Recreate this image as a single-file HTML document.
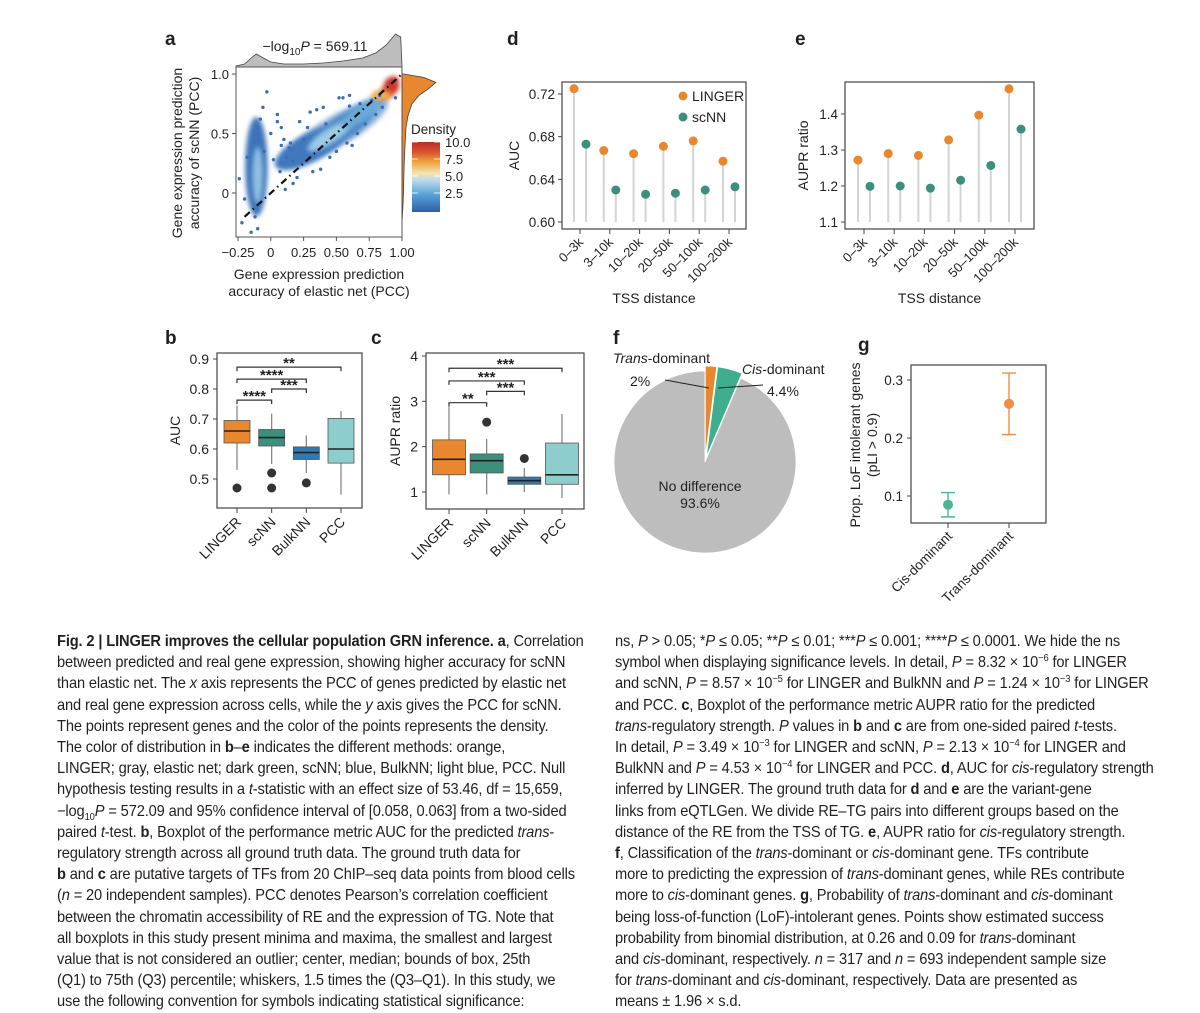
<!DOCTYPE html>
<html><head><meta charset="utf-8">
<style>
html,body{margin:0;padding:0;background:#fff;}
body{width:1200px;height:1012px;position:relative;overflow:hidden;font-family:"Liberation Sans",sans-serif;}
svg{position:absolute;left:0;top:0;}
.cap{position:absolute;top:631px;font-size:15.6px;line-height:21.2px;color:#231f20;transform:scaleX(0.94);transform-origin:0 0;white-space:nowrap;letter-spacing:-0.15px;}
.cap sub,.cap sup{font-size:10px;line-height:0;}
</style></head>
<body>
<svg id="fig" width="1200" height="1012" font-family="Liberation Sans, sans-serif"></svg>

<div class="cap" style="left:57px">
<div><b>Fig. 2 | LINGER improves the cellular population GRN inference. a</b>, Correlation</div>
<div>between predicted and real gene expression, showing higher accuracy for scNN</div>
<div>than elastic net. The <i>x</i> axis represents the PCC of genes predicted by elastic net</div>
<div>and real gene expression across cells, while the <i>y</i> axis gives the PCC for scNN.</div>
<div>The points represent genes and the color of the points represents the density.</div>
<div>The color of distribution in <b>b</b>–<b>e</b> indicates the different methods: orange,</div>
<div>LINGER; gray, elastic net; dark green, scNN; blue, BulkNN; light blue, PCC. Null</div>
<div>hypothesis testing results in a <i>t</i>-statistic with an effect size of 53.46, df = 15,659,</div>
<div>−log<sub>10</sub><i>P</i> = 572.09 and 95% confidence interval of [0.058, 0.063] from a two-sided</div>
<div>paired <i>t</i>-test. <b>b</b>, Boxplot of the performance metric AUC for the predicted <i>trans</i>-</div>
<div>regulatory strength across all ground truth data. The ground truth data for</div>
<div><b>b</b> and <b>c</b> are putative targets of TFs from 20 ChIP–seq data points from blood cells</div>
<div>(<i>n</i> = 20 independent samples). PCC denotes Pearson’s correlation coefficient</div>
<div>between the chromatin accessibility of RE and the expression of TG. Note that</div>
<div>all boxplots in this study present minima and maxima, the smallest and largest</div>
<div>value that is not considered an outlier; center, median; bounds of box, 25th</div>
<div>(Q1) to 75th (Q3) percentile; whiskers, 1.5 times the (Q3–Q1). In this study, we</div>
<div>use the following convention for symbols indicating statistical significance:</div>
</div>

<div class="cap" style="left:615px">
<div>ns, <i>P</i> &gt; 0.05; *<i>P</i> ≤ 0.05; **<i>P</i> ≤ 0.01; ***<i>P</i> ≤ 0.001; ****<i>P</i> ≤ 0.0001. We hide the ns</div>
<div>symbol when displaying significance levels. In detail, <i>P</i> = 8.32 × 10<sup>−6</sup> for LINGER</div>
<div>and scNN, <i>P</i> = 8.57 × 10<sup>−5</sup> for LINGER and BulkNN and <i>P</i> = 1.24 × 10<sup>−3</sup> for LINGER</div>
<div>and PCC. <b>c</b>, Boxplot of the performance metric AUPR ratio for the predicted</div>
<div><i>trans</i>-regulatory strength. <i>P</i> values in <b>b</b> and <b>c</b> are from one-sided paired <i>t</i>-tests.</div>
<div>In detail, <i>P</i> = 3.49 × 10<sup>−3</sup> for LINGER and scNN, <i>P</i> = 2.13 × 10<sup>−4</sup> for LINGER and</div>
<div>BulkNN and <i>P</i> = 4.53 × 10<sup>−4</sup> for LINGER and PCC. <b>d</b>, AUC for <i>cis</i>-regulatory strength</div>
<div>inferred by LINGER. The ground truth data for <b>d</b> and <b>e</b> are the variant-gene</div>
<div>links from eQTLGen. We divide RE–TG pairs into different groups based on the</div>
<div>distance of the RE from the TSS of TG. <b>e</b>, AUPR ratio for <i>cis</i>-regulatory strength.</div>
<div><b>f</b>, Classification of the <i>trans</i>-dominant or <i>cis</i>-dominant gene. TFs contribute</div>
<div>more to predicting the expression of <i>trans</i>-dominant genes, while REs contribute</div>
<div>more to <i>cis</i>-dominant genes. <b>g</b>, Probability of <i>trans</i>-dominant and <i>cis</i>-dominant</div>
<div>being loss-of-function (LoF)-intolerant genes. Points show estimated success</div>
<div>probability from binomial distribution, at 0.26 and 0.09 for <i>trans</i>-dominant</div>
<div>and <i>cis</i>-dominant, respectively. <i>n</i> = 317 and <i>n</i> = 693 independent sample size</div>
<div>for <i>trans</i>-dominant and <i>cis</i>-dominant, respectively. Data are presented as</div>
<div>means ± 1.96 × s.d.</div>
</div>

<script>
// ---- data ----
const tssCats = ["0–3k","3–10k","10–20k","20–50k","50–100k","100–200k"];
const aucLinger = [0.725,0.667,0.664,0.671,0.676,0.657];
const aucScnn = [0.673,0.630,0.626,0.627,0.630,0.633];
const aucTicks = [0.60,0.64,0.68,0.72];
const auprLinger = [1.272,1.290,1.285,1.328,1.397,1.470];
const auprScnn = [1.199,1.200,1.194,1.216,1.257,1.358];
const auprTicks = [1.1,1.2,1.3,1.4];

const methods = ["LINGER","scNN","BulkNN","PCC"];
const bAucQ1 = [0.620,0.610,0.565,0.553];
const bAucMed = [0.660,0.638,0.588,0.600];
const bAucQ3 = [0.695,0.665,0.607,0.702];
const bAucLo = [0.530,0.550,0.520,0.448];
const bAucHi = [0.745,0.718,0.645,0.727];
const bAucOut = [[0.470],[0.520,0.470],[0.487],[]];
const bAucTicks = [0.5,0.6,0.7,0.8,0.9];
const bAucSig = [[0,3,0.873,"**"],[0,2,0.833,"****"],[1,2,0.800,"***"],[0,1,0.763,"****"]];

const cQ1 = [1.38,1.42,1.17,1.17];
const cMed = [1.72,1.69,1.25,1.38];
const cQ3 = [2.15,1.84,1.33,2.08];
const cLo = [0.95,0.95,1.00,0.87];
const cHi = [2.87,2.17,1.53,2.72];
const cOut = [[],[2.54],[1.74],[]];
const cTicks = [1,2,3,4];
const cSig = [[0,3,3.73,"***"],[0,2,3.45,"***"],[1,2,3.22,"***"],[0,1,2.97,"**"]];

const pieLabels = ["Trans-dominant","Cis-dominant","No difference"];
const pieValues = [2.0,4.4,93.6];

const gCats = ["Cis-dominant","Trans-dominant"];
const gMean = [0.085,0.259];
const gLow = [0.064,0.206];
const gHigh = [0.106,0.312];
const gTicks = [0.1,0.2,0.3];

const aTicksX = [-0.25,0,0.25,0.5,0.75,1.0];
const aTickLabelsX = ["−0.25","0","0.25","0.50","0.75","1.00"];
const aTicksY = [0,0.5,1.0];
const aTickLabelsY = ["0","0.5","1.0"];
const blobX = [-0.11,-0.10,0.30,0.55,0.45,0.70,0.90,0.92,0.5];
const blobY = [0.22,0.15,0.38,0.55,0.48,0.68,0.86,0.93,0.52];
const blobRX = [0.085,0.04,0.30,0.27,0.2,0.2,0.09,0.06,0.45];
const blobRY = [0.42,0.24,0.12,0.1,0.06,0.07,0.055,0.045,0.13];
const blobRot = [0,0,-28,-33,-33,-35,-35,-30,-30];
const ptX = [-0.03,-0.22,-0.24,-0.18,-0.15,-0.2,-0.1,-0.06,0.05,0.08,0.11,0.17,0.2,0.22,0.3,0.35,0.4,0.52,0.55,0.6,0.62,-0.1,0.0,0.05,0.12,0.17,0.07,0.32,0.38,0.45,0.5,0.58,0.66,0.72,0.8,0.85,0.15,0.25,0.28,0.42,-0.05,0.02,0.08,0.1,0.14,0.6,0.68,0.77,0.83,0.95,-0.12,-0.08];
const ptY = [0.85,-0.25,0.12,0.3,-0.33,-0.05,-0.3,0.72,0.6,0.55,0.03,0.08,0.13,0.6,0.68,0.7,0.72,0.8,0.8,0.82,0.4,0.55,0.5,0.66,0.3,0.27,0.18,0.18,0.2,0.3,0.35,0.42,0.5,0.58,0.66,0.72,0.42,0.45,0.55,0.58,0.35,0.28,0.4,0.45,0.38,0.73,0.75,0.78,0.82,0.8,-0.2,0.62];
const topDensX = [-0.265,-0.2,-0.15,-0.11,-0.07,0.0,0.1,0.25,0.4,0.55,0.7,0.8,0.88,0.95,0.99,1.0];
const topDensV = [1,3,9,13,10,5,3,3,4,6,9,14,22,33,30,1];
const rightDensY = [-0.25,-0.1,0.0,0.2,0.4,0.55,0.65,0.75,0.82,0.88,0.93,0.97,1.0];
const rightDensV = [0,1,1.5,2,3,4,6,10,17,27,34,22,2];

// ---- helpers ----
const svg = document.getElementById('fig');
const NS = 'http://www.w3.org/2000/svg';
function el(tag, attrs, parent){
  const e = document.createElementNS(NS, tag);
  for (const k in attrs) e.setAttribute(k, attrs[k]);
  (parent||svg).appendChild(e);
  return e;
}
function txt(x,y,s,size,anchor,parent,extra){
  const t = el('text',Object.assign({x:x,y:y,'font-size':size,'text-anchor':anchor||'start',fill:'#231f20'},extra||{}),parent);
  t.textContent = s;
  return t;
}
function lin(d0,d1,r0,r1){return v=>r0+(v-d0)*(r1-r0)/(d1-d0);}
const OR='#E8872D', GR='#3C8F7C', BL='#2F79B5', LB='#8ECDCE';

const defs = el('defs',{});
const gr = el('linearGradient',{id:'cbar',x1:0,y1:1,x2:0,y2:0},defs);
[['0','#2f5fa8'],['0.25','#5aa2d8'],['0.45','#b9d9ea'],['0.55','#f2e6b0'],['0.72','#f0a03c'],['0.85','#d9552e'],['1','#b92b2b']].forEach(s=>el('stop',{offset:s[0],'stop-color':s[1]},gr));
const flt = el('filter',{id:'blur',x:'-50%',y:'-50%',width:'200%',height:'200%'},defs);
el('feGaussianBlur',{stdDeviation:2.5},flt);
const cp = el('clipPath',{id:'aclip'},defs);
el('rect',{x:236,y:67,width:166,height:170},cp);

[['a',165,45],['d',507,45],['e',795,45],['b',165,344],['c',371,344],['f',613,344],['g',858,351]].forEach(p=>{
  const t = txt(p[1],p[2],p[0],19,'start',svg,{'font-weight':'bold'});
  
  
});

// ---- panel a ----
(function(){
  const g = el('g',{});
  
  
  const X = lin(-0.25,1.0,238,402), Y = lin(0,1,193,74);
  let d = 'M'+X(topDensX[0])+',67';
  topDensX.forEach((v,i)=>{d+=' L'+X(v)+','+(67-topDensV[i]);});
  d+=' L'+X(1)+',67 Z';
  const td = el('path',{d:d,fill:'#bdbdbd',stroke:'#444','stroke-width':0.8},g);
  
  
  d = 'M402,'+Y(rightDensY[0]);
  rightDensY.forEach((v,i)=>{d+=' L'+(402+rightDensV[i])+','+Y(v);});
  d+=' L402,'+Y(1)+' Z';
  const rd = el('path',{d:d,fill:OR,stroke:'#444','stroke-width':0.8},g);
  
  
  const pl = el('g',{'clip-path':'url(#aclip)'},g);
  const bcol=['#3d73b9','#8fc0e2','#3f78bd','#4a86c6','#9ccbe6','#6aa9d8','#d23f2d','#c2302a','#4a7fc0'];
  const order=[8,0,1,2,3,4,5,6,7];
  order.forEach(i=>{
    const v=blobX[i];
    const sx = blobRX[i]*131.2, sy = blobRY[i]*118.3;
    const e = el('ellipse',{cx:X(v),cy:Y(blobY[i]),rx:sx,ry:sy,fill:bcol[i],'fill-opacity':i===8?0.6:1,filter:'url(#blur)',transform:'rotate('+blobRot[i]+' '+X(v)+' '+Y(blobY[i])+')'},pl);
    
    
  });
  el('ellipse',{cx:X(0.84),cy:Y(0.82),rx:10,ry:5,fill:'#f2b04a',filter:'url(#blur)'},pl);
  ptX.forEach((v,i)=>{
    const c = el('circle',{cx:X(v),cy:Y(ptY[i]),r:1.7,fill:'#3b6db5'},pl);
    
    
  });
  const dl = el('line',{x1:X(-0.2),y1:Y(-0.2),x2:X(1),y2:Y(1),stroke:'#111','stroke-width':2.2,'stroke-dasharray':'7,4,1.5,4'},pl);
  
  
  el('rect',{x:236,y:67,width:166,height:170,fill:'none',stroke:'#555','stroke-width':1},g);
  aTicksX.forEach((v,i)=>{
    el('line',{x1:X(v),x2:X(v),y1:237,y2:241,stroke:'#555'},g);
    txt(X(v),257,aTickLabelsX[i],13,'middle',g);
  });
  aTicksY.forEach((v,i)=>{
    el('line',{x1:232,x2:236,y1:Y(v),y2:Y(v),stroke:'#555'},g);
    txt(229,Y(v)+5,aTickLabelsY[i],13,'end',g);
  });
  const t = el('text',{x:315,y:51,'font-size':14,'text-anchor':'middle',fill:'#231f20'},g);
  t.innerHTML = '−log<tspan font-size="10" dy="4">10</tspan><tspan dy="-4" font-style="italic">P</tspan> = 569.11';
  
  
  txt(319,279,'Gene expression prediction',14,'middle',g);
  txt(319,296,'accuracy of elastic net (PCC)',14,'middle',g);
  const yl = el('g',{transform:'translate(182,153) rotate(-90)'},g);
  
  
  txt(0,0,'Gene expression prediction',14,'middle',yl);
  txt(0,17,'accuracy of scNN (PCC)',14,'middle',yl);
  const cb = el('rect',{x:412,y:142,width:28,height:70,fill:'url(#cbar)'},g);
  
  
  txt(411,134,'Density',13.5,'start',g);
  [['10.0',146],['7.5',163],['5.0',180],['2.5',197]].forEach(l=>{
    el('line',{x1:412,x2:418,y1:l[1]-4,y2:l[1]-4,stroke:'#fff','stroke-width':0.8},g);
    el('line',{x1:434,x2:440,y1:l[1]-4,y2:l[1]-4,stroke:'#fff','stroke-width':0.8},g);
    txt(445,l[1]+1,l[0],13,'start',g);
  });
})();

function lollipop(name, box, yd, ticks, fmt, lv, sv, ylab, legend){
  const g = el('g',{});
  
  
  const Y = lin(yd[0],yd[1],box.yb0,box.yb1);
  const step = (box.cx1-box.cx0)/(tssCats.length-1);
  const X = i=>box.cx0+i*step;
  el('rect',{x:box.x,y:box.y,width:box.w,height:box.h,fill:'none',stroke:'#444','stroke-width':1.2},g);
  ticks.forEach(v=>{
    el('line',{x1:box.x-4,x2:box.x,y1:Y(v),y2:Y(v),stroke:'#444'},g);
    txt(box.x-7,Y(v)+5,fmt(v),13.5,'end',g);
  });
  tssCats.forEach((c,i)=>{
    el('line',{x1:X(i),x2:X(i),y1:box.y+box.h,y2:box.y+box.h+5,stroke:'#444'},g);
    const t = txt(0,0,c,13,'end',g,{transform:'translate('+(X(i)+4)+','+(box.y+box.h+14)+') rotate(-45)'});
    
    
    [[lv,-6,OR],[sv,6,GR]].forEach(s=>{
      const xx = X(i)+s[1];
      el('line',{x1:xx,x2:xx,y1:Y(ticks[0]),y2:Y(s[0][i]),stroke:'#d4d4d4','stroke-width':2},g);
      const p = el('circle',{cx:xx,cy:Y(s[0][i]),r:4.5,fill:s[2]},g);
      
      
    });
  });
  txt((box.x+box.x+box.w)/2,303,'TSS distance',14,'middle',g);
  const yl = txt(0,0,ylab,14,'middle',g,{transform:'translate('+box.ylx+','+(box.y+box.h/2)+') rotate(-90)'});
  
  
  if(legend){
    const l1 = el('circle',{cx:683,cy:96,r:4.5,fill:OR},g);
    
    
    txt(692,101,'LINGER',14,'start',g);
    const l2 = el('circle',{cx:683,cy:117,r:4.5,fill:GR},g);
    
    
    txt(692,122,'scNN',14,'start',g);
  }
}
lollipop('panel-d-auc',{x:562,y:82,w:184,h:147,cx0:580,cx1:729,yb0:222,yb1:94,ylx:519},[0.60,0.72],aucTicks,v=>v.toFixed(2),aucLinger,aucScnn,'AUC',true);
lollipop('panel-e-aupr',{x:845,y:82,w:189,h:147,cx0:864,cx1:1015,yb0:222,yb1:114,ylx:808},[1.1,1.4],auprTicks,v=>v.toFixed(1),auprLinger,auprScnn,'AUPR ratio',false);

function boxplot(name, box, yd, ticks, fmt, q1,med,q3,lo,hi,outs,sig, ylab, bw, ylx){
  const g = el('g',{});
  
  
  const Y = lin(yd[0],yd[1],box.yb0,box.yb1);
  const X = i=>box.cx0+i*(box.cx1-box.cx0)/3;
  const cols=[OR,GR,BL,LB];
  el('rect',{x:box.x,y:box.y,width:box.w,height:box.h,fill:'none',stroke:'#444','stroke-width':1.2},g);
  ticks.forEach(v=>{
    el('line',{x1:box.x-4,x2:box.x,y1:Y(v),y2:Y(v),stroke:'#444'},g);
    txt(box.x-8,Y(v)+5,fmt(v),14,'end',g);
  });
  methods.forEach((m,i)=>{
    const x=X(i);
    el('line',{x1:x,x2:x,y1:box.y+box.h,y2:box.y+box.h+5,stroke:'#444'},g);
    const t = txt(0,0,m,14,'end',g,{transform:'translate('+(x+5)+','+(box.y+box.h+15)+') rotate(-45)'});
    
    
    el('line',{x1:x,x2:x,y1:Y(lo[i]),y2:Y(hi[i]),stroke:'#888','stroke-width':1.3},g);
    const r = el('rect',{x:x-bw/2,y:Y(q3[i]),width:bw,height:Y(q1[i])-Y(q3[i]),fill:cols[i],stroke:'#555','stroke-width':0.8},g);
    
    
    el('line',{x1:x-bw/2,x2:x+bw/2,y1:Y(med[i]),y2:Y(med[i]),stroke:'#222','stroke-width':1.6},g);
    outs[i].forEach(o=>{
      const c = el('circle',{cx:x,cy:Y(o),r:4.5,fill:'#333'},g);
      
      
    });
  });
  sig.forEach(s=>{
    const y=Y(s[2]);
    const b = el('path',{d:'M'+X(s[0])+','+(y+4)+' V'+y+' H'+X(s[1])+' V'+(y+4),fill:'none',stroke:'#333','stroke-width':1.2},g);
    
    
    txt((X(s[0])+X(s[1]))/2,y+1,s[3],15,'middle',g,{'font-weight':'bold'});
  });
  const yl = txt(0,0,ylab,14,'middle',g,{transform:'translate('+ylx+','+(box.y+box.h/2)+') rotate(-90)'});
  
  
}
boxplot('panel-b-auc',{x:217,y:353,w:145,h:155,cx0:237,cx1:341,yb0:479,yb1:359},[0.5,0.9],bAucTicks,v=>v.toFixed(1),bAucQ1,bAucMed,bAucQ3,bAucLo,bAucHi,bAucOut,bAucSig,'AUC',26,180);
boxplot('panel-c-aupr',{x:426,y:353,w:158,h:156,cx0:449,cx1:562,yb0:492,yb1:356},[1,4],cTicks,v=>String(v),cQ1,cMed,cQ3,cLo,cHi,cOut,cSig,'AUPR ratio',33,400);

(function(){
  const g = el('g',{});
  
  
  const cx=705, cy=462, r=91;
  const total = pieValues.reduce((a,b)=>a+b,0);
  const cols=[OR,'#3FAE8E','#bdbdbd'], names=['slice-trans-dominant','slice-cis-dominant','slice-no-difference'];
  let a0=0;
  pieValues.forEach((v,i)=>{
    const a1 = a0+v/total*2*Math.PI;
    const off = i<2?5:0, mid=(a0+a1)/2;
    const ox = cx+off*Math.sin(mid), oy = cy-off*Math.cos(mid);
    const p = el('path',{d:'M'+ox+','+oy+' L'+(ox+r*Math.sin(a0))+','+(oy-r*Math.cos(a0))+' A'+r+','+r+' 0 '+(a1-a0>Math.PI?1:0)+' 1 '+(ox+r*Math.sin(a1))+','+(oy-r*Math.cos(a1))+' Z',fill:cols[i],stroke:'#fff','stroke-width':0.8},g);
    
    
    a0=a1;
  });
  el('line',{x1:665,y1:380,x2:709,y2:388,stroke:'#222','stroke-width':1},g);
  el('line',{x1:718,y1:388,x2:763,y2:385,stroke:'#222','stroke-width':1},g);
  const t1 = el('text',{x:613,y:363,'font-size':14,fill:'#231f20'},g);
  t1.innerHTML='<tspan font-style="italic">Trans</tspan>-dominant';
  txt(630,386,pieValues[0]+'%',14,'start',g);
  const t2 = el('text',{x:742,y:374,'font-size':14,fill:'#231f20'},g);
  t2.innerHTML='<tspan font-style="italic">Cis</tspan>-dominant';
  txt(767,396,pieValues[1]+'%',14,'start',g);
  txt(700,491,pieLabels[2],14,'middle',g);
  txt(700,508,pieValues[2]+'%',14,'middle',g);
})();

(function(){
  const g = el('g',{});
  
  
  const Y = lin(0.1,0.3,496,380);
  const X = i=>948+i*61;
  el('rect',{x:911,y:365,width:135,height:158,fill:'none',stroke:'#444','stroke-width':1.2},g);
  gTicks.forEach(v=>{
    el('line',{x1:907,x2:911,y1:Y(v),y2:Y(v),stroke:'#444'},g);
    txt(903,Y(v)+5,v.toFixed(1),13.5,'end',g);
  });
  const cols=['#4DB595','#EE8D45'];
  gCats.forEach((c,i)=>{
    const x=X(i);
    el('line',{x1:x,x2:x,y1:523,y2:528,stroke:'#444'},g);
    const t = txt(0,0,c,13.5,'end',g,{transform:'translate('+(x+5)+',537) rotate(-45)'});
    
    
    el('path',{d:'M'+(x-7)+','+Y(gHigh[i])+' H'+(x+7)+' M'+x+','+Y(gHigh[i])+' V'+Y(gLow[i])+' M'+(x-7)+','+Y(gLow[i])+' H'+(x+7),stroke:cols[i],'stroke-width':1.4,fill:'none'},g);
    const p = el('circle',{cx:x,cy:Y(gMean[i]),r:5,fill:cols[i]},g);
    
    
  });
  const yl = el('g',{transform:'translate(860,445) rotate(-90)'},g);
  
  
  txt(0,0,'Prop. LoF intolerant genes',14,'middle',yl);
  txt(0,17,'(pLI > 0.9)',14,'middle',yl);
})();
</script>
</body></html>
